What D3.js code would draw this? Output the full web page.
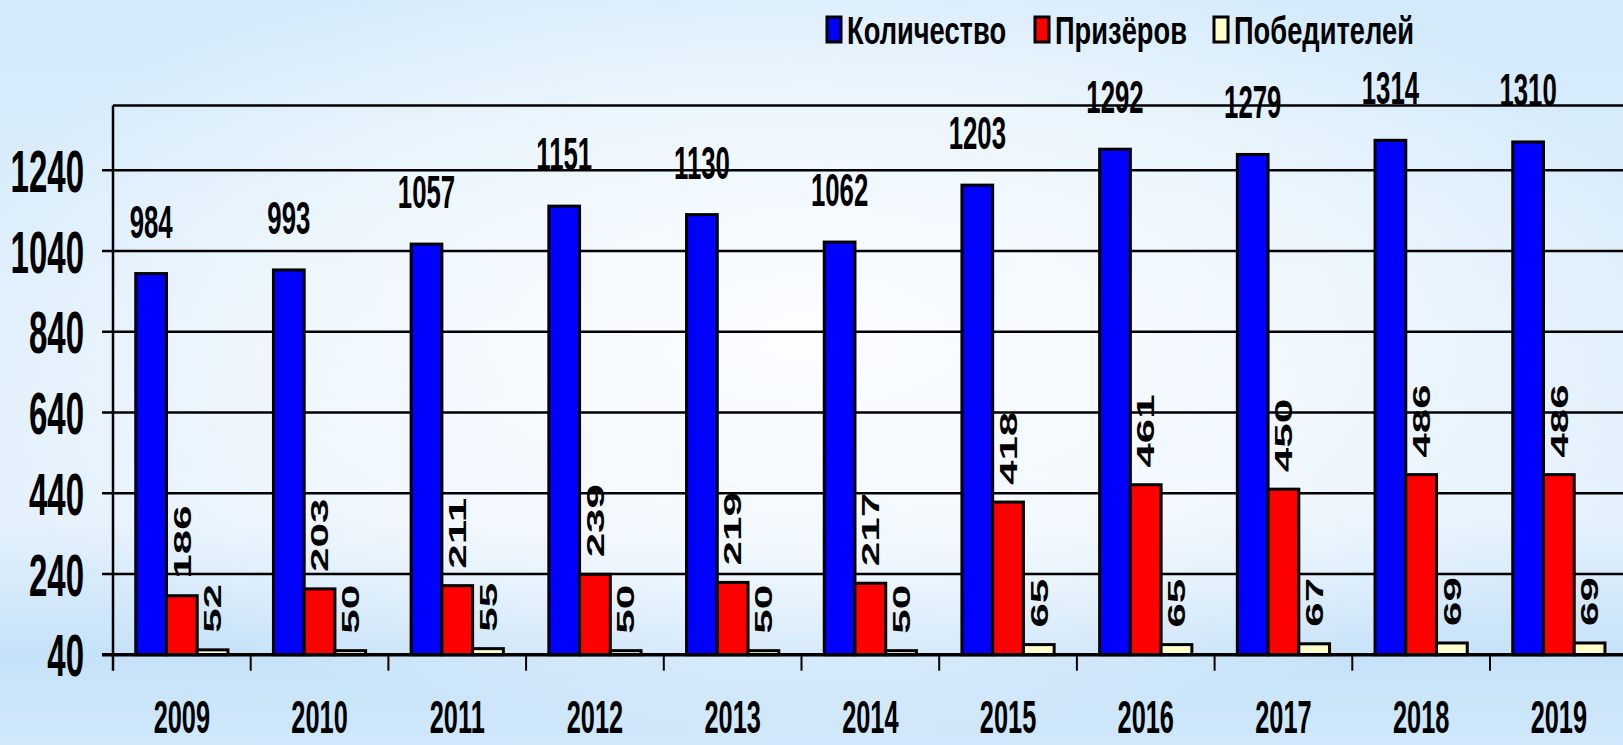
<!DOCTYPE html>
<html>
<head>
<meta charset="utf-8">
<script src="https://cdn.jsdelivr.net/npm/d3@7"></script>
<style>
  html, body { margin: 0; padding: 0; overflow: hidden; }
  text { font-family: "Liberation Sans", Arial, sans-serif; font-weight: bold; fill: #000; }
</style>
</head>
<body>
<svg id="chart" width="1623" height="745"></svg>
<script>
// chart values
const years = [2009, 2010, 2011, 2012, 2013, 2014, 2015, 2016, 2017, 2018, 2019]
const kolichestvo = [984, 993, 1057, 1151, 1130, 1062, 1203, 1292, 1279, 1314, 1310]
const prizerov = [186, 203, 211, 239, 219, 217, 418, 461, 450, 486, 486]
const pobediteley = [52, 50, 55, 50, 50, 50, 65, 65, 67, 69, 69]
const seriesNames = ['Количество', 'Призёров', 'Победителей']
const seriesColors = ['#0000ff', '#ff0000', '#ffffcc']
const yTicks = [40, 240, 440, 640, 840, 1040, 1240]
const yDomain = [40, 1400]

const svg = d3.select('#chart')
const W = 1623
const H = 745
const plotLeft = 113
const plotTop = 105.6
const plotBottom = 654.7
const plotRight = plotLeft + years.length * 137.7

// background
const defs = svg.append('defs')
const bg = defs.append('linearGradient').attr('id', 'bgv').attr('x1', 0).attr('y1', 0).attr('x2', 0).attr('y2', 1)
bg.append('stop').attr('offset', '0%').attr('stop-color', '#d3eafb')
bg.append('stop').attr('offset', '70%').attr('stop-color', '#e4f1fc')
bg.append('stop').attr('offset', '88%').attr('stop-color', '#c6e2f8')
bg.append('stop').attr('offset', '100%').attr('stop-color', '#d0e8fa')
const glow = defs.append('radialGradient').attr('id', 'glow')
  .attr('cx', '50%').attr('cy', '45%').attr('r', '55%')
glow.append('stop').attr('offset', '0%').attr('stop-color', '#ffffff').attr('stop-opacity', 0.9)
glow.append('stop').attr('offset', '60%').attr('stop-color', '#ffffff').attr('stop-opacity', 0.5)
glow.append('stop').attr('offset', '100%').attr('stop-color', '#ffffff').attr('stop-opacity', 0)

svg.append('rect').attr('width', W).attr('height', H).attr('fill', 'url(#bgv)')
svg.append('rect').attr('width', W).attr('height', H).attr('fill', 'url(#glow)')

// scales
const x0 = d3.scaleBand().domain(years).range([plotLeft, plotRight]).padding(0)
const x1 = d3.scaleBand().domain(seriesNames).range([0, x0.bandwidth()])
  .paddingInner(0).paddingOuter(0.74)
const y = d3.scaleLinear().domain(yDomain).range([plotBottom, plotTop])

const rows = years.map((yr, i) => ({
  year: yr,
  values: [kolichestvo[i], prizerov[i], pobediteley[i]]
}))

// grid lines with left ticks
svg.append('g').attr('class', 'grid')
  .selectAll('line').data(yTicks.slice(1)).join('line')
  .attr('x1', plotLeft - 11).attr('x2', W)
  .attr('y1', d => y(d)).attr('y2', d => y(d))
  .attr('stroke', '#000').attr('stroke-width', 2.5)

// plot top border
svg.append('line')
  .attr('x1', plotLeft).attr('x2', W).attr('y1', y(yDomain[1])).attr('y2', y(yDomain[1]))
  .attr('stroke', '#000').attr('stroke-width', 2.5)

// bars
const groups = svg.append('g').attr('class', 'bars')
  .selectAll('g').data(rows).join('g')
  .attr('transform', d => `translate(${x0(d.year)},0)`)

groups.selectAll('rect')
  .data(d => d.values.map((v, k) => ({ name: seriesNames[k], value: v, k })))
  .join('rect')
  .attr('x', d => x1(d.name))
  .attr('y', d => y(d.value))
  .attr('width', x1.bandwidth())
  .attr('height', d => y(yDomain[0]) - y(d.value))
  .attr('fill', d => seriesColors[d.k])
  .attr('stroke', '#000')
  .attr('stroke-width', 3)

// axes
svg.append('line')
  .attr('x1', plotLeft).attr('x2', plotLeft).attr('y1', plotTop).attr('y2', plotBottom + 16)
  .attr('stroke', '#000').attr('stroke-width', 2.5)
svg.append('line')
  .attr('x1', plotLeft - 11).attr('x2', W).attr('y1', plotBottom).attr('y2', plotBottom)
  .attr('stroke', '#000').attr('stroke-width', 3.5)
svg.append('g').attr('class', 'xticks')
  .selectAll('line').data(years.slice(1)).join('line')
  .attr('x1', d => x0(d)).attr('x2', d => x0(d))
  .attr('y1', plotBottom).attr('y2', plotBottom + 16)
  .attr('stroke', '#000').attr('stroke-width', 2)

// y labels
svg.append('g').attr('class', 'ylabels')
  .selectAll('text').data(yTicks).join('text')
  .attr('transform', d => `translate(84,${y(d)}) scale(0.55,1)`)
  .attr('text-anchor', 'end')
  .attr('dy', '0.36em')
  .attr('font-size', 60)
  .text(d => d)

// year labels
svg.append('g').attr('class', 'xlabels')
  .selectAll('text').data(years).join('text')
  .attr('transform', d => `translate(${x0(d) + x0.bandwidth() / 2},733) scale(0.54,1)`)
  .attr('text-anchor', 'middle')
  .attr('font-size', 47)
  .text(d => d)

// value labels
const labels = svg.append('g').attr('class', 'labels')
labels.selectAll('text.kol').data(rows).join('text').attr('class', 'kol')
  .attr('transform', d => `translate(${x0(d.year) + x1(seriesNames[0]) + x1.bandwidth() / 2},${y(d.values[0]) - 36}) scale(0.56,1)`)
  .attr('text-anchor', 'middle')
  .attr('font-size', 46)
  .text(d => d.values[0])

;[1, 2].forEach(k => {
  labels.selectAll('text.s' + k).data(rows).join('text').attr('class', 's' + k)
    .attr('transform', d => `translate(${x0(d.year) + x1(seriesNames[k]) + x1.bandwidth() / 2},${y(d.values[k]) - 17}) scale(0.55,1) rotate(-90)`)
    .attr('dy', '0.36em')
    .attr('font-size', 44)
    .text(d => d.values[k])
})

// legend
const legendX = [827, 1035, 1214]
const legend = svg.append('g').attr('class', 'legend')
  .selectAll('g').data(seriesNames).join('g')
  .attr('transform', (d, i) => `translate(${legendX[i]},17)`)
legend.append('rect')
  .attr('width', 14).attr('height', 25)
  .attr('fill', (d, i) => seriesColors[i])
  .attr('stroke', '#000').attr('stroke-width', 3)
legend.append('text')
  .attr('transform', 'translate(20,27) scale(0.7,1)')
  .attr('font-size', 39)
  .text(d => d)
</script>
</body>
</html>
